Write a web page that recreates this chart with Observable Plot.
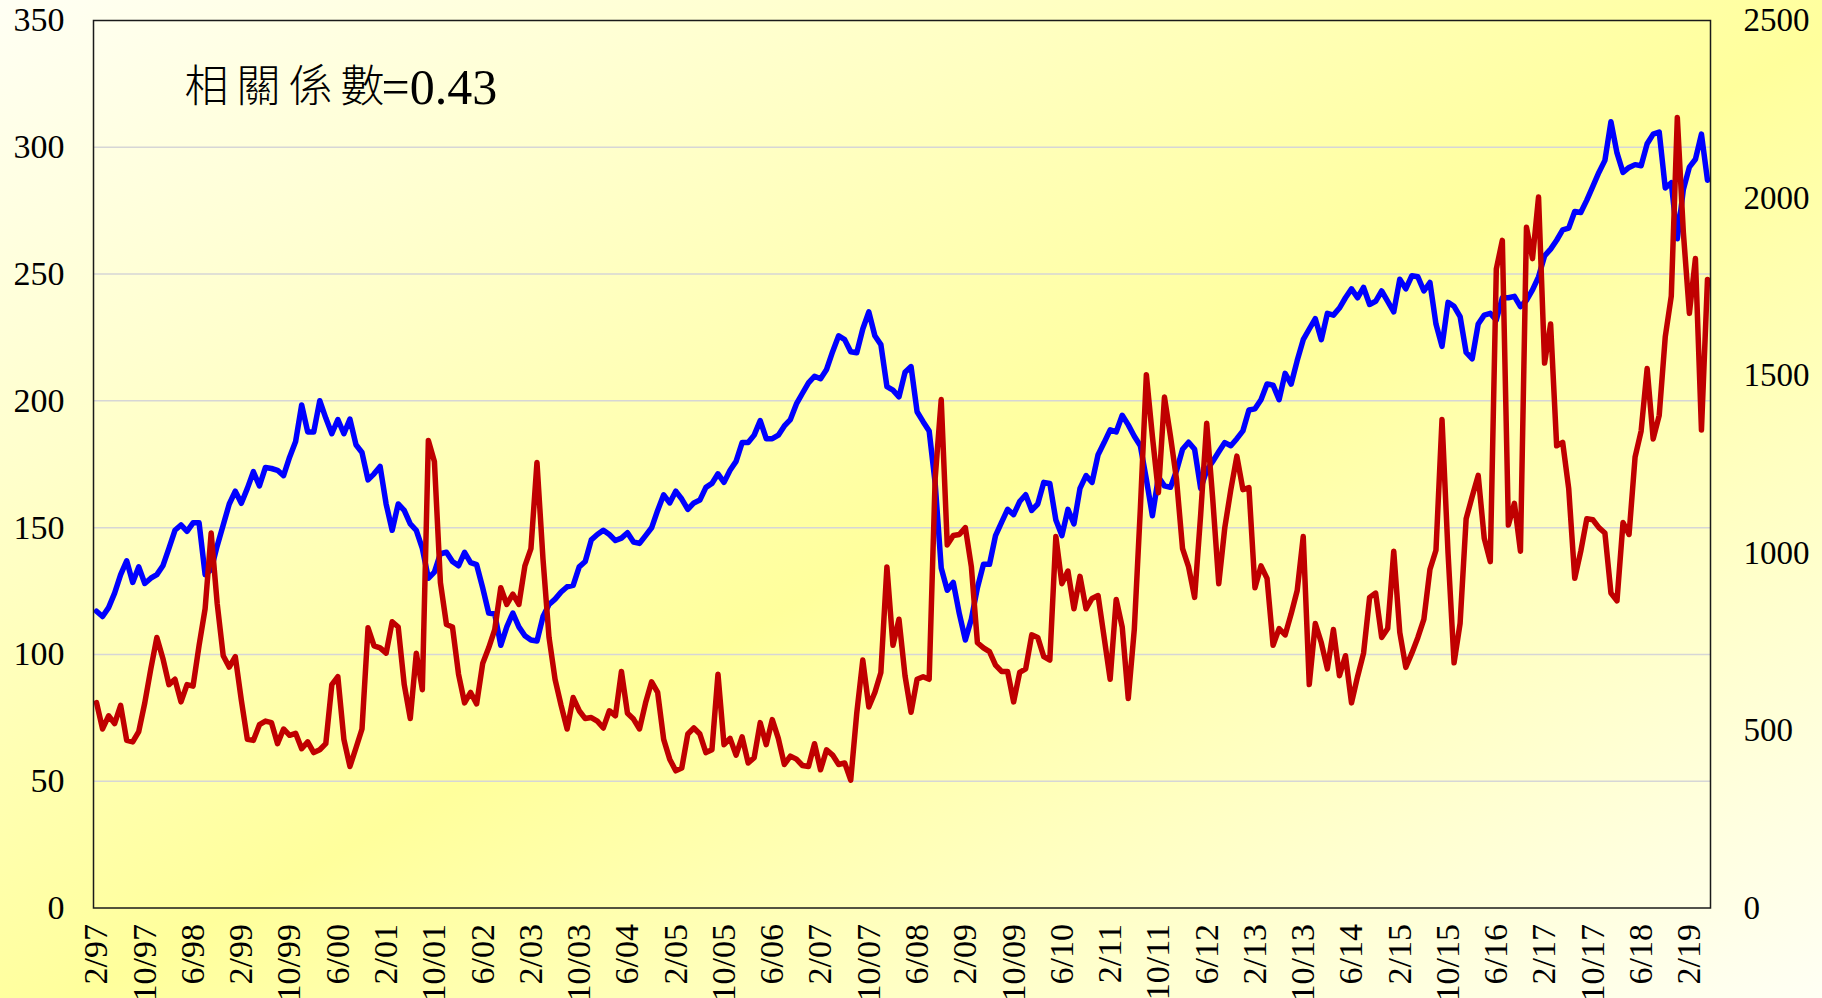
<!DOCTYPE html>
<html>
<head>
<meta charset="utf-8">
<script src="https://cdn.jsdelivr.net/npm/d3@7"></script>
<script src="https://cdn.jsdelivr.net/npm/@observablehq/plot@0.6"></script>
<style>
html, body { margin: 0; padding: 0; width: 1822px; height: 998px; overflow: hidden; }
body { background: linear-gradient(to bottom right, #fffff4 0%, #ffff9c 52%, #fffff4 100%); }
#chart svg { display: block; overflow: visible; }
</style>
</head>
<body>
<div id="chart"></div>
<script>
// Monthly categories: Feb 1997 ... May 2019 (268 months); labels every 8 months
const xTickLabels = ["2/97","10/97","6/98","2/99","10/99","6/00","2/01","10/01","6/02","2/03",
  "10/03","6/04","2/05","10/05","6/06","2/07","10/07","6/08","2/09","10/09","6/10","2/11",
  "10/11","6/12","2/13","10/13","6/14","2/15","10/15","6/16","2/17","10/17","6/18","2/19"];
const tickStep = 8;

// Left axis (red series) and right axis (blue series) tick values
const leftTicks = [0, 50, 100, 150, 200, 250, 300, 350];
const leftGrid = [50, 100, 150, 200, 250, 300];
const rightTicks = [0, 500, 1000, 1500, 2000, 2500];

// Red series, left axis (0-350)
const redSeries = [
  81,70.6,75.8,72.7,79.9,66.1,65.5,69.6,80.9,94.3,
  106.7,98.4,88.1,90.2,81.3,88.1,87.5,103.6,118,147.9,
  120.1,99.5,95,99.1,82,66.5,66.1,72.3,73.7,73.1,
  64.8,70.6,68.1,68.9,62.8,65.5,61.3,62.4,64.8,88.1,
  91.2,66.5,55.8,63.1,70.6,110.5,103.4,102.6,100.5,112.9,
  110.8,88.1,74.7,100.5,86.1,184.4,176.1,128.3,111.8,110.8,
  92.2,80.9,85,80.5,96.4,102.6,109.8,126.3,119.7,123.8,
  119.7,134.9,141.7,175.7,137.6,106.7,90.2,79.9,70.6,83,
  77.8,74.7,75.1,73.7,71,77.8,75.8,93.3,76.8,74.5,
  70.6,80.9,89.2,85,66.5,58.7,54.1,55.2,68.6,71,
  68.6,61.3,62.4,92.2,64.4,66.9,60.3,67.5,57.2,59.3,
  73.1,64.4,74.3,66.9,56.6,59.9,58.7,56.2,55.8,64.8,
  54.5,62.4,60.3,56.6,57.2,50.4,76.8,97.8,79.3,85,
  92.9,134.5,103.6,113.9,91.6,77.2,90.2,91.2,90.2,169.5,
  200.5,143.2,146.9,147.3,150,134.5,104.6,102.6,101.1,95.8,
  93.3,93.3,81.3,92.9,94.3,107.7,106.7,99.1,97.8,146.5,
  127.9,132.9,118,130.8,118,122.1,123.2,106.7,90.2,121.7,
  110.8,82.6,109.8,157.2,210.3,186,163.8,201.5,186,169,
  141.7,134.5,122.5,155.1,191.2,161.3,127.9,150,165,178.2,
  165,165.8,126.3,134.9,130,103.6,110.2,107.7,116,125.2,
  146.5,88.1,112.2,104.6,94.3,109.8,91.6,99.5,80.9,91.2,
  100.5,122.5,124.2,106.7,110.2,140.7,108.7,94.9,100.5,106.7,
  113.9,133.5,141.1,192.6,140,96.7,112.3,153.5,162.3,170.6,
  145.8,136.6,252,263.3,151,159.6,140.7,268.5,256.1,280.4,
  214.9,230.3,182.3,183.6,165.4,130,140.7,153.5,153.1,150,
  147.9,124.2,121.1,152,147.3,177.8,188.1,212.8,185,194.3,
  225.2,241.3,311.7,266.4,234.5,256.1,188.5,247.9
];

// Blue series, right axis (0-2500)
const blueSeries = [
  836,821,846,887,939,978,917,961,914,929,
  939,964,1013,1064,1079,1061,1085,1085,939,953,
  1020,1079,1138,1174,1140,1182,1229,1189,1241,1238,
  1233,1218,1270,1314,1417,1341,1341,1429,1380,1336,
  1376,1336,1377,1305,1283,1206,1223,1244,1138,1064,
  1138,1120,1082,1064,1013,929,946,998,1002,976,
  964,1002,973,967,902,831,828,740,792,831,
  792,767,755,752,821,855,870,890,905,909,
  961,976,1037,1052,1064,1052,1035,1042,1057,1031,
  1027,1049,1071,1120,1164,1141,1174,1152,1123,1141,
  1149,1185,1196,1223,1199,1233,1258,1311,1311,1332,
  1373,1322,1322,1332,1358,1376,1420,1450,1479,1498,
  1491,1517,1567,1612,1601,1567,1564,1631,1679,1612,
  1587,1469,1459,1440,1509,1525,1398,1370,1344,1196,
  958,895,917,829,755,814,902,968,968,1049,
  1086,1123,1108,1145,1164,1120,1138,1199,1196,1093,
  1049,1123,1082,1182,1218,1199,1277,1311,1347,1341,
  1388,1361,1329,1302,1208,1105,1214,1189,1185,1232,
  1292,1312,1292,1182,1233,1258,1285,1311,1302,1322,
  1344,1403,1406,1432,1476,1473,1432,1506,1476,1542,
  1601,1631,1660,1601,1675,1670,1690,1719,1744,1719,
  1748,1700,1709,1738,1709,1679,1771,1744,1781,1778,
  1738,1762,1645,1582,1706,1695,1666,1565,1547,1645,
  1670,1675,1656,1719,1719,1723,1694,1712,1741,1778,
  1837,1856,1881,1910,1915,1962,1959,1994,2033,2072,
  2106,2215,2127,2072,2086,2094,2091,2153,2180,2186,
  2028,2043,1885,2024,2087,2109,2180,2050
];

const annoLabel = "相關係數";
const annoValue = "=0.43";

// right-axis values mapped onto the left-axis scale
const k = 350 / 2500;
const rows = redSeries.map((v, i) => ({ i, red: v, blue: blueSeries[i] * k }));
const serif = "'Liberation Serif', 'Times New Roman', serif";

const chart = Plot.plot({
  width: 1822,
  height: 998,
  marginLeft: 93,
  marginRight: 112,
  marginTop: 20,
  marginBottom: 90.5,
  style: { background: "transparent", fontFamily: serif, fontSize: "34px", color: "#000", overflow: "visible" },
  x: { type: "linear", domain: [-0.5, redSeries.length - 0.5] },
  y: { domain: [0, 350] },
  marks: [
    Plot.gridY(leftGrid, { stroke: "#d6d6d6", strokeOpacity: 1, strokeWidth: 1.5 }),
    Plot.axisY({ anchor: "left", ticks: leftTicks, tickSize: 0, tickPadding: 29, label: null, fontSize: 34 }),
    Plot.axisY({ anchor: "right", ticks: rightTicks.map(v => v * k), tickFormat: d => String(Math.round(d / k)),
      tickSize: 0, tickPadding: 33, label: null, fontSize: 33 }),
    Plot.axisX({ ticks: xTickLabels.map((_, j) => j * tickStep), tickFormat: d => xTickLabels[Math.round(d / tickStep)],
      tickRotate: -90, tickSize: 0, tickPadding: 16, label: null, fontSize: 34 }),
    Plot.lineY(rows, { x: "i", y: "blue", stroke: "#0000ff", strokeWidth: 5.5, strokeLinejoin: "round" }),
    Plot.lineY(rows, { x: "i", y: "red", stroke: "#c00000", strokeWidth: 5.5, strokeLinejoin: "round" }),
    Plot.frame({ stroke: "#1a1a1a", strokeWidth: 1.5 }),
    Plot.text([annoLabel], { text: d => d, frameAnchor: "top-left", dx: 91, dy: 67, textAnchor: "start",
      lineAnchor: "middle", fontSize: 44, fontWeight: 300, fontFamily: "'Noto Sans CJK TC', sans-serif", fill: "#000" }),
    Plot.text([annoValue], { text: d => d, frameAnchor: "top-left", dx: 288, dy: 67, textAnchor: "start",
      lineAnchor: "middle", fontSize: 50, fontFamily: serif, fill: "#000" })
  ]
});

d3.select(chart).selectAll("text").filter(function () { return this.textContent === annoLabel; })
  .attr("letter-spacing", 8);

document.getElementById("chart").appendChild(chart);
</script>
</body>
</html>
